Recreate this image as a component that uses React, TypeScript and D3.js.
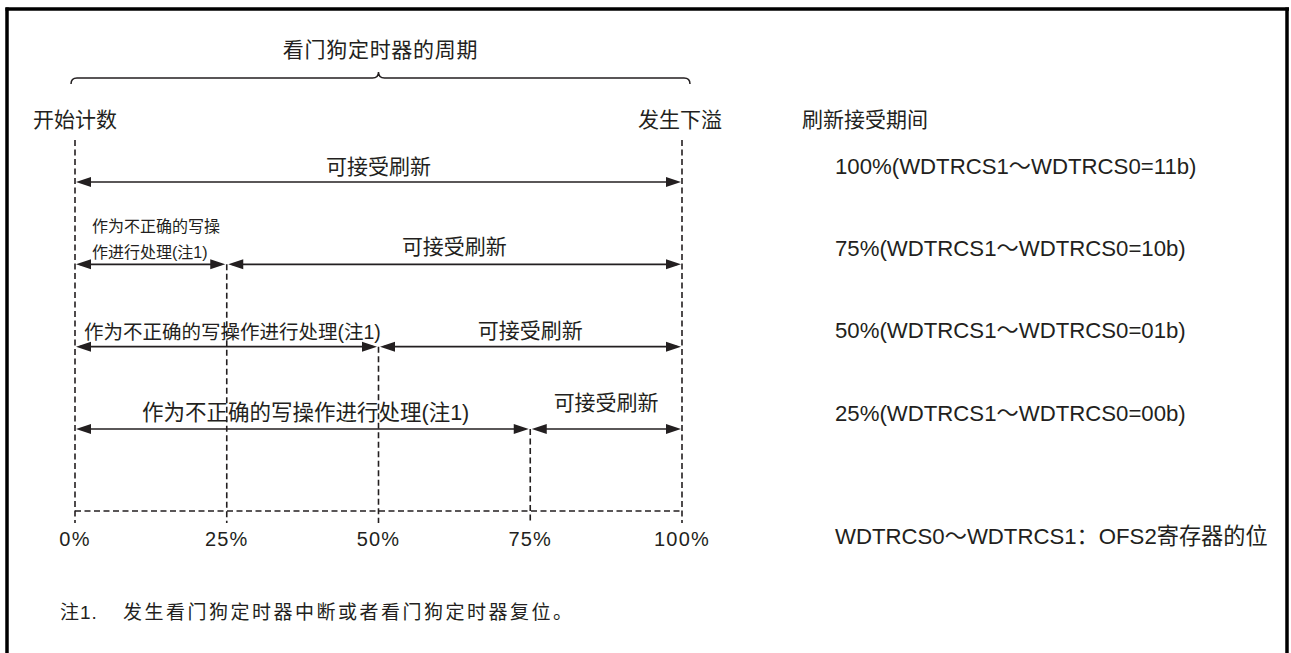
import React from "react";
import * as d3 from "d3";

// ---- data ----
const tickValues = [0, 25, 50, 75, 100];
const tickLabels = ["0%", "25%", "50%", "75%", "100%"];
// refresh acceptance window start (% of WDT period) per row
const acceptStart = [0, 25, 50, 75];
const acceptLabel = "可接受刷新";
const invalidLabel = "作为不正确的写操作进行处理(注1)";
const invalidLabelRow2 = ["作为不正确的写操", "作进行处理(注1)"];
const rightLabels = [
  "100%(WDTRCS1～WDTRCS0=11b)",
  "75%(WDTRCS1～WDTRCS0=10b)",
  "50%(WDTRCS1～WDTRCS0=01b)",
  "25%(WDTRCS1～WDTRCS0=00b)",
];
const titleText = "看门狗定时器的周期";
const startText = "开始计数";
const overflowText = "发生下溢";
const rightHeader = "刷新接受期间";
const bitNote = "WDTRCS0～WDTRCS1：OFS2寄存器的位";
const noteLabel = "注1.";
const noteText = "发生看门狗定时器中断或者看门狗定时器复位。";

const W = 1291;
const H = 653;
const INK = "#231f20";
const FONT = "'Liberation Sans', Arial, 'Noto Sans CJK SC', sans-serif";

const x = d3.scaleLinear().domain([0, 100]).range([75, 682]);
const rowY = d3.scaleLinear().domain([0, 3]).range([182, 429]);

const AH_L = 15;
const AH_W = 5;

function Arrow({ x1, x2, y }: { x1: number; x2: number; y: number }) {
  const left = `M${x1},${y} L${x1 + AH_L},${y - AH_W} L${x1 + AH_L},${y + AH_W} Z`;
  const right = `M${x2},${y} L${x2 - AH_L},${y - AH_W} L${x2 - AH_L},${y + AH_W} Z`;
  return (
    <g>
      <line x1={x1 + 4} x2={x2 - 4} y1={y} y2={y} stroke={INK} strokeWidth={1.7} />
      <path d={left} fill={INK} />
      <path d={right} fill={INK} />
    </g>
  );
}

export default function App() {
  const x0 = x(0);
  const x100 = x(100);
  const dashBottom = 523;
  const baseY = 511;
  const braceY = 78;
  const mid = (x0 + x100) / 2;
  const bL = x0 - 4;
  const bR = x100 + 8;
  const brace = d3.path();
  brace.moveTo(bL, braceY + 6);
  brace.quadraticCurveTo(bL, braceY, bL + 6, braceY);
  brace.lineTo(mid - 6, braceY);
  brace.quadraticCurveTo(mid, braceY, mid, braceY - 6);
  brace.quadraticCurveTo(mid, braceY, mid + 6, braceY);
  brace.lineTo(bR - 6, braceY);
  brace.quadraticCurveTo(bR, braceY, bR, braceY + 6);

  return (
    <div style={{ position: "absolute", left: 0, top: 0 }}>
      <svg width={W} height={H} style={{ display: "block", background: "#fff" }} fontFamily={FONT}>
        {/* frame */}
        <line x1={5.5} x2={1289} y1={9} y2={9} stroke="#000" strokeWidth={3.5} />
        <line x1={7} x2={7} y1={7.5} y2={H} stroke="#000" strokeWidth={3.5} />
        <line x1={1287} x2={1287} y1={7.5} y2={H} stroke="#000" strokeWidth={3.5} />

        {/* title & brace */}
        <text x={mid + 2} y={49} textAnchor="middle" dominantBaseline="central" fontSize={21} letterSpacing={0.7} fill={INK}>
          {titleText}
        </text>
        <path d={brace.toString()} fill="none" stroke={INK} strokeWidth={1.5} />

        <text x={33} y={119} dominantBaseline="central" fontSize={21} fill={INK}>{startText}</text>
        <text x={x100 - 44} y={119} dominantBaseline="central" fontSize={21} fill={INK}>{overflowText}</text>
        <text x={802} y={119} dominantBaseline="central" fontSize={21} fill={INK}>{rightHeader}</text>

        {/* dashed verticals */}
        {tickValues.map((v, i) => {
          const top = v === 0 || v === 100 ? 140 : rowY(acceptStart.indexOf(v));
          return (
            <line key={"v" + i} x1={x(v)} x2={x(v)} y1={top} y2={dashBottom}
              stroke={INK} strokeWidth={1.6} strokeDasharray="6,3.5" />
          );
        })}
        <line x1={x0} x2={x100} y1={baseY} y2={baseY} stroke={INK} strokeWidth={1.6} strokeDasharray="6,3.5" />

        {/* tick labels */}
        {tickValues.map((v, i) => (
          <text key={"t" + i} x={x(v)} y={539} textAnchor="middle" dominantBaseline="central"
            fontSize={20} letterSpacing={1.2} fill={INK}>
            {tickLabels[i]}
          </text>
        ))}

        {/* rows */}
        {acceptStart.map((s, i) => {
          const y = rowY(i);
          const xs = x(s);
          const els: React.ReactNode[] = [];
          if (s > 0) {
            els.push(<Arrow key="a1" x1={x0 + 1} x2={xs - 1.5} y={y} />);
            els.push(<Arrow key="a2" x1={xs + 1.5} x2={x100 - 1} y={y} />);
          } else {
            els.push(<Arrow key="a0" x1={x0 + 1} x2={x100 - 1} y={y} />);
          }
          // accept label
          const accMid = (xs + x100) / 2;
          const accDy = i === 3 ? -27 : i === 1 ? -18 : -16;
          els.push(
            <text key="acc" x={accMid} y={y + accDy} textAnchor="middle" dominantBaseline="central"
              fontSize={21} fill={INK}>{acceptLabel}</text>
          );
          if (i === 1) {
            invalidLabelRow2.forEach((t, j) => {
              els.push(
                <text key={"inv" + j} x={x0 + 17} y={y - 38 + j * 26} dominantBaseline="central"
                  fontSize={16} fill={INK}>{t}</text>
              );
            });
          } else if (i === 2) {
            els.push(
              <text key="inv" x={x0 + 9} y={y - 15} dominantBaseline="central" fontSize={19.5} fill={INK}>
                {invalidLabel}
              </text>
            );
          } else if (i === 3) {
            els.push(
              <text key="inv" x={(x0 + xs) / 2 + 3} y={y - 16} textAnchor="middle" dominantBaseline="central"
                fontSize={21.5} fill={INK}>{invalidLabel}</text>
            );
          }
          els.push(
            <text key="rl" x={835} y={y - 16} dominantBaseline="central" fontSize={22.2} fill={INK}>
              {rightLabels[i]}
            </text>
          );
          return <g key={"r" + i}>{els}</g>;
        })}

        <text x={835} y={536} dominantBaseline="central" fontSize={22.2} fill={INK}>{bitNote}</text>

        <text x={60} y={612} dominantBaseline="central" fontSize={19} fill={INK} letterSpacing={1}>{noteLabel}</text>
        <text x={123} y={612} dominantBaseline="central" fontSize={19} fill={INK} letterSpacing={2.5}>{noteText}</text>
      </svg>
    </div>
  );
}
